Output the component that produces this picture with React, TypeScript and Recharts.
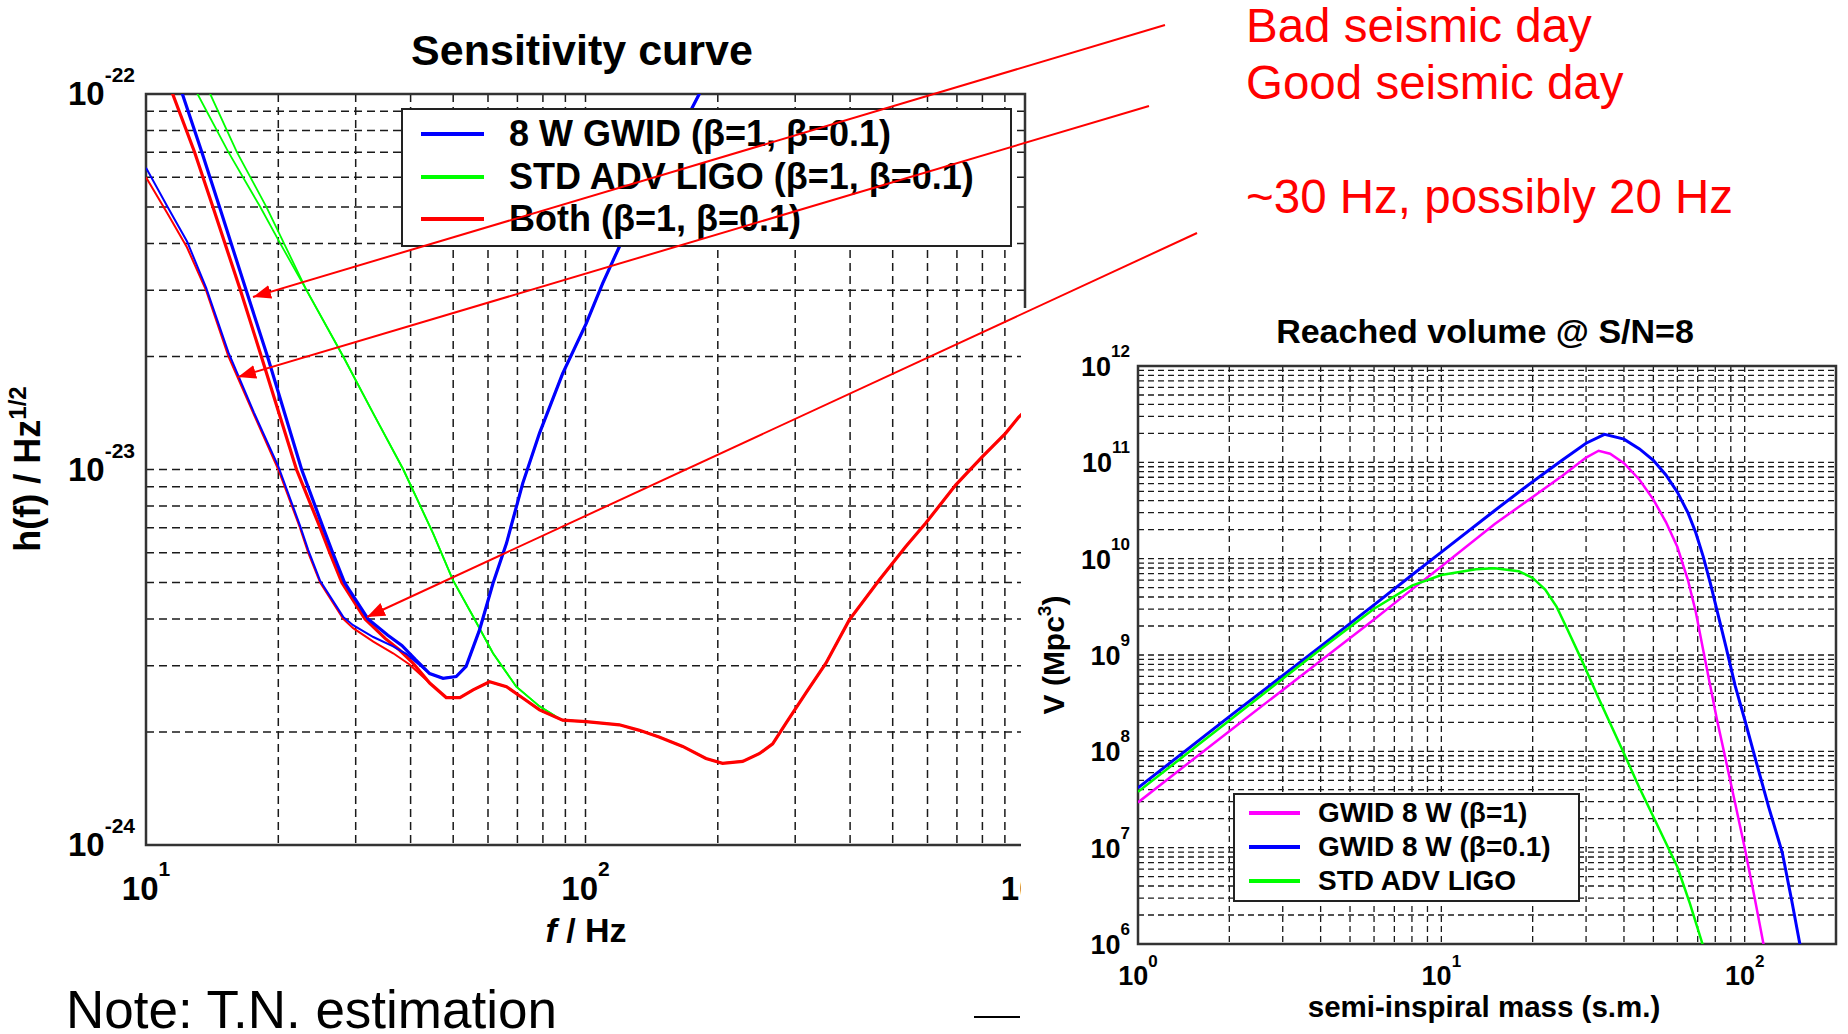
import React from "react";
import { LineChart, Line, XAxis, YAxis, CartesianGrid, Legend, ReferenceArea } from "recharts";

const FONT = '"Liberation Sans", Arial, Helvetica, sans-serif';
const RED = "#ff0000";
const BLUE = "#0000ff";
const GREEN = "#00ff00";
const MAGENTA = "#ff00ff";

// axis ticks: 1..9 per decade, labels only on the powers of ten
function decadeTicks(lo: number, hi: number) {
  const out: number[] = [];
  for (let e = lo; e < hi; e++) for (let k = 1; k <= 9; k++) out.push(Number(`${k}e${e}`));
  out.push(Number(`1e${hi}`));
  return out;
}
const SENS_X_TICKS = decadeTicks(1, 3);
const SENS_Y_TICKS = decadeTicks(-24, -22);
const VOL_X_TICKS = [...decadeTicks(0, 2), 200];
const VOL_Y_TICKS = decadeTicks(6, 12);

// ---- Sensitivity curve: f (Hz) vs h(f) ----
// beta=1 branches (upper, steeper at low f)
const gwidB1Freq = [11.0, 12.1, 13.4, 14.7, 16.9, 18.9, 22.6, 25.3, 26.6, 28.3, 32.0, 35.5, 38.2, 41.0];
const gwidB1H = [1.4e-22, 1.0e-22, 7.0e-23, 5.0e-23, 3.0e-23, 2.0e-23, 1.0e-23, 7.0e-24, 6.0e-24, 5.0e-24, 4.0e-24, 3.62e-24, 3.4e-24, 3.12e-24];
const bothB1Freq = [10.5, 11.5, 12.9, 14.2, 16.4, 18.3, 22.0, 24.9, 26.2, 27.9, 31.5, 35.0, 37.8, 40.5];
const bothB1H = [1.4e-22, 1.0e-22, 7.0e-23, 5.0e-23, 3.0e-23, 2.0e-23, 1.0e-23, 7.0e-24, 6.0e-24, 5.0e-24, 4.0e-24, 3.55e-24, 3.3e-24, 3.05e-24];
// beta=0.1 branches
const gwidB01Freq = [10, 11.2, 12.4, 13.7, 15.4, 17.6, 20.0, 22.4, 23.4, 24.9, 28.1, 29.6, 32.9, 36.5, 39.1];
const gwidB01H = [6.36e-23, 5.0e-23, 4.05e-23, 3.05e-23, 2.05e-23, 1.42e-23, 1.02e-23, 7.1e-24, 6.1e-24, 5.05e-24, 4.05e-24, 3.85e-24, 3.58e-24, 3.38e-24, 3.23e-24];
const bothB01Freq = [10, 11.2, 12.4, 13.7, 15.4, 17.6, 20.0, 22.4, 23.4, 24.9, 28.1, 29.6, 32.9, 36.5, 39.7];
const bothB01H = [6.0e-23, 4.8e-23, 3.9e-23, 3.0e-23, 2.0e-23, 1.4e-23, 1.0e-23, 7.0e-24, 6.0e-24, 5.0e-24, 4.0e-24, 3.78e-24, 3.48e-24, 3.24e-24, 3.03e-24];
const stdB01Freq = [12.0, 13.1, 15.4, 18.2, 20.2];
const stdB01H = [1.2e-22, 1.0e-22, 7.0e-23, 5.0e-23, 4.0e-23];
const stdB1Freq = [12.8, 14.0, 16.1, 18.8, 20.4];
const stdB1H = [1.2e-22, 1.0e-22, 7.0e-23, 5.0e-23, 4.1e-23];
// shared high-frequency parts
const gwidTailFreq = [44.2, 47.4, 50.8, 53.5, 57.4, 61.6, 66.1, 72.0, 78.6, 88.7, 100.4, 109.4, 119.4, 150, 181.5, 200];
const gwidTailH = [2.86e-24, 2.78e-24, 2.81e-24, 2.99e-24, 3.74e-24, 4.98e-24, 6.36e-24, 9.2e-24, 1.25e-23, 1.8e-23, 2.45e-23, 3.13e-23, 3.92e-23, 6.5e-23, 1.0e-22, 1.22e-22];
const bothTailFreq = [44.2, 48.2, 51.8, 55.5, 60.5, 66.1, 72.1, 78.6, 88.7, 100.4, 119.4, 132.7, 147, 166.4, 188, 205, 227.8, 248.4, 266.6, 285.9, 317.4, 352.4, 398, 466, 535, 594, 696, 799, 904, 968, 1000];
const bothTailH = [2.7e-24, 2.47e-24, 2.47e-24, 2.59e-24, 2.72e-24, 2.64e-24, 2.46e-24, 2.29e-24, 2.15e-24, 2.13e-24, 2.09e-24, 2.02e-24, 1.94e-24, 1.83e-24, 1.7e-24, 1.65e-24, 1.67e-24, 1.75e-24, 1.86e-24, 2.11e-24, 2.54e-24, 3.05e-24, 3.97e-24, 5.08e-24, 6.23e-24, 7.19e-24, 9.1e-24, 1.08e-23, 1.25e-23, 1.38e-23, 1.43e-23];
const stdTailFreq = [23.2, 28.1, 33.0, 38.5, 45.0, 49.9, 55.5, 61.6, 69.6, 78.6, 85.7, 88.7, 100.4];
const stdTailH = [3.0e-23, 2.0e-23, 1.4e-23, 1.0e-23, 6.76e-24, 5.08e-24, 4.06e-24, 3.24e-24, 2.64e-24, 2.34e-24, 2.2e-24, 2.15e-24, 2.13e-24];

// ---- Reached volume: semi-inspiral mass vs V (Mpc^3) ----
const gwidB1Mass = [1, 2, 4, 6, 8, 10, 15, 20, 25, 30, 33, 36, 40, 45, 50, 55, 60, 65, 69, 73, 77, 81, 85, 92, 100, 108, 115, 120];
const gwidB1Vol = [2.95e7, 1.62e8, 8.7e8, 2.34e9, 4.8e9, 8.3e9, 2.29e10, 4.37e10, 7.2e10, 1.12e11, 1.32e11, 1.23e11, 9.8e10, 6.6e10, 4.1e10, 2.4e10, 1.32e10, 6.0e9, 2.8e9, 1.12e9, 4.8e8, 2.14e8, 1.07e8, 3.4e7, 1.0e7, 2.95e6, 1.05e6, 5.0e5];
const gwidB01Mass = [1, 2, 4, 6, 8, 10, 15, 20, 25, 30, 34.5, 40, 45, 50, 55, 60, 65, 69, 73, 77, 82, 87, 93, 100, 110, 120, 133, 143, 152, 158];
const gwidB01Vol = [4.17e7, 2.29e8, 1.23e9, 3.31e9, 6.76e9, 1.17e10, 3.16e10, 6.3e10, 1.05e11, 1.58e11, 1.95e11, 1.74e11, 1.38e11, 1.05e11, 7.4e10, 4.9e10, 3.0e10, 1.86e10, 1.05e10, 5.6e9, 2.5e9, 1.17e9, 4.8e8, 2.14e8, 7.1e7, 2.63e7, 8.9e6, 2.8e6, 1.0e6, 4.0e5];
const stdMass = [1, 2, 4, 6, 8, 10, 13, 15, 18, 20, 22, 24, 26, 29, 33, 39.6, 45, 50, 55, 60, 66, 72.6, 76];
const stdVol = [3.8e7, 2.09e8, 1.15e9, 3.02e9, 5.25e9, 6.76e9, 7.76e9, 7.94e9, 7.41e9, 6.31e9, 4.79e9, 3.16e9, 1.86e9, 8.9e8, 3.55e8, 1.02e8, 4.17e7, 2.09e7, 1.12e7, 6.3e6, 2.63e6, 1.0e6, 5.6e5];

const SENS_LEGEND = [
  { label: "8 W GWID (β=1, β=0.1)", color: BLUE },
  { label: "STD ADV LIGO (β=1, β=0.1)", color: GREEN },
  { label: "Both (β=1, β=0.1)", color: RED },
];
const VOL_LEGEND = [
  { label: "GWID 8 W (β=1)", color: MAGENTA },
  { label: "GWID 8 W (β=0.1)", color: BLUE },
  { label: "STD ADV LIGO", color: GREEN },
];

const zip = (xs: number[], ys: number[]) => xs.map((x, i) => ({ x, y: ys[i] }));

function powTick(o: { anchor: "end" | "middle"; dx: number; dy: number; size: number; sup: number; supDy: number }) {
  return (props: any) => {
    const { x, y, payload } = props;
    const e = Math.log10(payload.value);
    if (Math.abs(e - Math.round(e)) > 1e-6) return <g />;
    return (
      <text x={x + o.dx} y={y + o.dy} textAnchor={o.anchor} fontFamily={FONT} fontWeight={700} fontSize={o.size} fill="#000">
        <tspan>10</tspan>
        <tspan dy={o.supDy} fontSize={o.sup}>{Math.round(e)}</tspan>
      </text>
    );
  };
}

function LegendBox(props: {
  items: { label: string; color: string }[];
  width: number; height: number; rows: number[];
  lineX: number; lineW: number; textX: number; fontSize: number;
}) {
  const { items, width, height, rows, lineX, lineW, textX, fontSize } = props;
  return (
    <div style={{ position: "relative", width, height, boxSizing: "border-box", border: "2px solid #222", background: "#fff", fontFamily: FONT, fontWeight: 700, fontSize, color: "#000" }}>
      {items.map((it, i) => (
        <React.Fragment key={it.label}>
          <div style={{ position: "absolute", left: lineX, top: rows[i] - 2, width: lineW, height: 4, background: it.color }} />
          <div style={{ position: "absolute", left: textX, top: rows[i], transform: "translateY(-50%)", lineHeight: 1, whiteSpace: "nowrap" }}>{it.label}</div>
        </React.Fragment>
      ))}
    </div>
  );
}

function SensitivityChart() {
  const line = (xs: number[], ys: number[], color: string, w: number, key: string) => (
    <Line key={key} data={zip(xs, ys)} dataKey="y" stroke={color} strokeWidth={w} dot={false} activeDot={false} isAnimationActive={false} legendType="none" />
  );
  return (
    <LineChart width={1040} height={940} margin={{ top: 94, right: 15, bottom: 0, left: 0 }}>
      <CartesianGrid stroke="#1a1a1a" strokeWidth={1.5} strokeDasharray="8 5" />
      <XAxis dataKey="x" type="number" scale="log" domain={[10, 1000]} allowDataOverflow ticks={SENS_X_TICKS} interval={0}
        tick={powTick({ anchor: "middle", dx: 0, dy: 55, size: 33, sup: 21, supDy: -24 })}
        tickLine={false} axisLine={false} tickSize={0} tickMargin={0} height={95} />
      <YAxis type="number" scale="log" domain={[1e-24, 1e-22]} allowDataOverflow ticks={SENS_Y_TICKS} interval={0}
        tick={powTick({ anchor: "end", dx: -11, dy: 11, size: 33, sup: 21, supDy: -23 })}
        tickLine={false} axisLine={false} tickSize={0} tickMargin={0} width={146} />
      {line([...stdB01Freq, ...stdTailFreq], [...stdB01H, ...stdTailH], GREEN, 1.8, "s01")}
      {line([...stdB1Freq, ...stdTailFreq], [...stdB1H, ...stdTailH], GREEN, 1.8, "s1")}
      {line([...bothB01Freq, ...bothTailFreq], [...bothB01H, ...bothTailH], RED, 2, "b01")}
      {line([...bothB1Freq, ...bothTailFreq], [...bothB1H, ...bothTailH], RED, 3.2, "b1")}
      {line([...gwidB01Freq, ...gwidTailFreq], [...gwidB01H, ...gwidTailH], BLUE, 2, "g01")}
      {line([...gwidB1Freq, ...gwidTailFreq], [...gwidB1H, ...gwidTailH], BLUE, 3.2, "g1")}
      <ReferenceArea x1={10} x2={1000} y1={1e-24} y2={1e-22} fill="none" stroke="#333" strokeWidth={2.5} ifOverflow="visible" />
      <Legend layout="vertical" align="center" verticalAlign="middle"
        wrapperStyle={{ left: 401, top: 108, width: 611, height: 139 }}
        content={() => (
          <LegendBox items={SENS_LEGEND} width={611} height={139} rows={[24, 67, 109]} lineX={18} lineW={63} textX={106} fontSize={36} />
        )} />
    </LineChart>
  );
}

function VolumeChart() {
  const line = (xs: number[], ys: number[], color: string, w: number) => (
    <Line data={zip(xs, ys)} dataKey="y" stroke={color} strokeWidth={w} dot={false} activeDot={false} isAnimationActive={false} legendType="none" />
  );
  return (
    <LineChart width={827} height={726} margin={{ top: 58, right: 12, bottom: 0, left: 0 }}>
      <CartesianGrid stroke="#1a1a1a" strokeWidth={1.3} strokeDasharray="6 4" />
      <XAxis dataKey="x" type="number" scale="log" domain={[1, 200]} allowDataOverflow ticks={VOL_X_TICKS} interval={0}
        tick={powTick({ anchor: "middle", dx: 0, dy: 41, size: 27, sup: 17, supDy: -18 })}
        tickLine={false} axisLine={false} tickSize={0} tickMargin={0} height={90} />
      <YAxis type="number" scale="log" domain={[1e6, 1e12]} allowDataOverflow ticks={VOL_Y_TICKS} interval={0}
        tick={powTick({ anchor: "end", dx: -8, dy: 10, size: 27, sup: 17, supDy: -19 })}
        tickLine={false} axisLine={false} tickSize={0} tickMargin={0} width={117} />
      {line(gwidB01Mass, gwidB01Vol, BLUE, 3)}
      {line(gwidB1Mass, gwidB1Vol, MAGENTA, 2.5)}
      {line(stdMass, stdVol, GREEN, 2.5)}
      <ReferenceArea x1={1} x2={200} y1={1e6} y2={1e12} fill="none" stroke="#333" strokeWidth={2.5} ifOverflow="visible" />
      <Legend layout="vertical" align="center" verticalAlign="middle"
        wrapperStyle={{ left: 212, top: 485, width: 347, height: 109 }}
        content={() => (
          <LegendBox items={VOL_LEGEND} width={347} height={109} rows={[18, 52, 86]} lineX={14} lineW={51} textX={83} fontSize={28} />
        )} />
    </LineChart>
  );
}

export default function App() {
  const txt = { fontFamily: FONT, fill: "#000" } as const;
  return (
    <div style={{ position: "absolute", left: 0, top: 0, width: 1848, height: 1034, background: "#fff", overflow: "hidden" }}>
      <div style={{ position: "absolute", left: 0, top: 0 }}>
        <SensitivityChart />
      </div>
      <div style={{ position: "absolute", left: 1021, top: 308, width: 827, height: 726, background: "#fff" }}>
        <VolumeChart />
      </div>
      <svg width={1848} height={1034} style={{ position: "absolute", left: 0, top: 0, pointerEvents: "none" }}>
        <defs>
          <marker id="tip" markerUnits="userSpaceOnUse" markerWidth={20} markerHeight={14} refX={18} refY={7} orient="auto">
            <path d="M0,0 L18,7 L0,14 z" fill={RED} />
          </marker>
        </defs>
        <text {...txt} x={582} y={65} textAnchor="middle" fontWeight={700} fontSize={43}>Sensitivity curve</text>
        <text {...txt} x={586} y={942} textAnchor="middle" fontWeight={700} fontSize={34}>
          <tspan fontStyle="italic">f</tspan> / Hz
        </text>
        <text {...txt} transform="translate(40,469) rotate(-90)" textAnchor="middle" fontWeight={700} fontSize={36}>
          h(f) / Hz<tspan dy={-14} fontSize={24}>1/2</tspan>
        </text>
        <text {...txt} x={1485} y={343} textAnchor="middle" fontWeight={700} fontSize={34}>Reached volume @ S/N=8</text>
        <text {...txt} x={1484} y={1017} textAnchor="middle" fontWeight={700} fontSize={29.5}>semi-inspiral mass (s.m.)</text>
        <text {...txt} transform="translate(1064,655) rotate(-90)" textAnchor="middle" fontWeight={700} fontSize={30}>
          V (Mpc<tspan dy={-13} fontSize={19}>3</tspan><tspan dy={13}>)</tspan>
        </text>

        <line x1={1165} y1={25} x2={253} y2={297} stroke={RED} strokeWidth={2} markerEnd="url(#tip)" />
        <line x1={1149} y1={106} x2={238} y2={377} stroke={RED} strokeWidth={2} markerEnd="url(#tip)" />
        <line x1={1197} y1={233} x2={367} y2={617} stroke={RED} strokeWidth={2} markerEnd="url(#tip)" />
        <text x={1246} y={42} fontFamily={FONT} fontSize={47.5} fill={RED}>Bad seismic day</text>
        <text x={1246} y={99} fontFamily={FONT} fontSize={47.5} fill={RED}>Good seismic day</text>
        <text x={1246} y={213} fontFamily={FONT} fontSize={47.5} fill={RED}>~30 Hz, possibly 20 Hz</text>

        <text {...txt} x={66} y={1028} fontSize={53}>Note: T.N. estimation</text>
        <line x1={974} y1={1017} x2={1020} y2={1017} stroke="#000" strokeWidth={2} />
      </svg>
    </div>
  );
}
